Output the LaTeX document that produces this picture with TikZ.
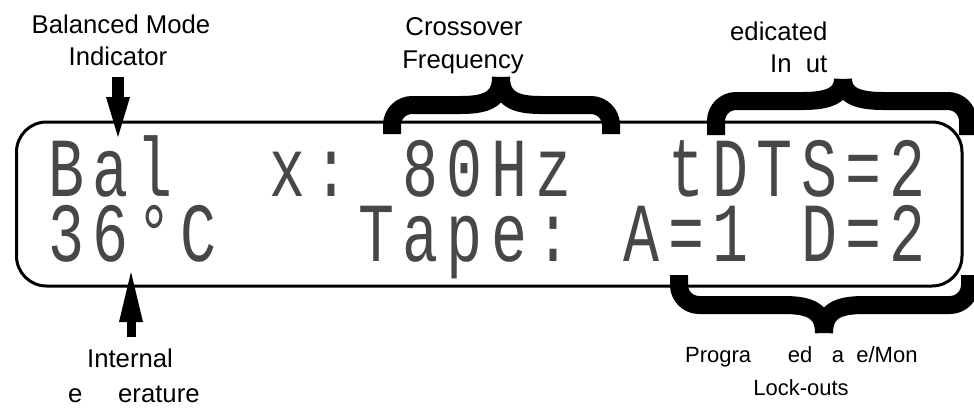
\documentclass[tikz,border=0pt]{standalone}
\usepackage{fontspec}
\usetikzlibrary{arrows.meta}
\newfontfamily\lblsans{Liberation Sans}
\newfontfamily\lcdmono{Liberation Mono}
% one LCD character cell
\newcommand\lc[1]{\makebox[44.3pt]{#1}}
% brace: #1 xL, #2 xM, #3 xR, #4 leg end y, #5 arm y, #6 tip y, #7 sign (+1 legs below arm)
\newcommand\lcdbrace[7]{%
  \draw[bracestroke] (#1,#4) -- (#1,{#5+#7*20}) .. controls (#1,{#5+#7*9}) and ({#1+9},#5) .. ({#1+20},#5)
     -- ({#2-40},#5) .. controls ({#2-14},#5) and (#2,{#5-#7*6}) .. (#2,#6);
  \draw[bracestroke] (#3,#4) -- (#3,{#5+#7*20}) .. controls (#3,{#5+#7*9}) and ({#3-9},#5) .. ({#3-20},#5)
     -- ({#2+40},#5) .. controls ({#2+14},#5) and (#2,{#5-#7*6}) .. (#2,#6);
}
\tikzset{
  lbl/.style={font=\lblsans\fontsize{25.7}{30}\selectfont, inner sep=0pt},
  lblsm/.style={font=\lblsans\fontsize{22}{26}\selectfont, inner sep=0pt},
  lcdtxt/.style={font=\lcdmono\fontsize{60}{47.14}\selectfont, text=black!72, inner sep=0pt, anchor=base west},
  bracestroke/.style={line width=18pt, black, line cap=butt, line join=round},
  lcdframe/.style={line width=3pt, rounded corners=30pt},
  ptr/.style={line cap=butt, -{Triangle[length=#1, width=24pt, line width=0pt]}},
}
\begin{document}
\begin{tikzpicture}[x=1pt, y=-1pt]
\useasboundingbox (0,0) rectangle (974,407);
\fill[white] (0,0) rectangle (974,407);

% display frame
\draw[lcdframe] (16.5,122) rectangle (962,286);

% display text (two rows, 20 character cells each)
\node[lcdtxt] (lcd) at (43.8,196) {\scalebox{1}[1.4]{\vtop{\lineskiplimit=-1000pt\baselineskip=47.14pt
  \hbox{\lc{B}\lc{a}\lc{l}\lc{}\lc{}\lc{x}\lc{:}\lc{}\lc{8}\lc{0}\lc{H}\lc{z}\lc{}\lc{}\lc{t}\lc{D}\lc{T}\lc{S}\lc{=}\lc{2}}
  \hbox{\lc{3}\lc{6}\lc{°}\lc{C}\lc{}\lc{}\lc{}\lc{T}\lc{a}\lc{p}\lc{e}\lc{:}\lc{}\lc{A}\lc{=}\lc{1}\lc{}\lc{D}\lc{=}\lc{2}}}}};

% braces
\lcdbrace{392}{501}{611}{134}{105}{77}{1}
\lcdbrace{716}{843}{968}{135}{101}{79}{1}
\lcdbrace{679}{824}{970}{275}{305}{333}{-1}

% labels
\node[lbl, anchor=base] (bm1) at (121,33) {Balanced Mode};
\node[lbl, anchor=base] (bm2) at (118,65) {Indicator};
\node[lbl, anchor=base] (cf1) at (464,35) {Crossover};
\node[lbl, anchor=base] (cf2) at (463,68) {Frequency};
\node[lbl, anchor=base west] (di1) at (730,40) {edicated};
\node[lbl, anchor=base west] (di2) at (770,72) {In\phantom{p}ut};
\node[lbl, anchor=base] (it1) at (130,367) {Internal};
\node[lbl, anchor=base west] (it2) at (68,402) {e\phantom{mp}erature};
\node[lblsm, anchor=base west] (pl1) at (685,362) {Progra\phantom{mm}ed \phantom{T}a\phantom{p}e/Mon};
\node[lblsm, anchor=base] (pl2) at (801,395) {Lock-outs};

% arrows
\coordinate (a1s) at (118,77);
\coordinate (a1t) at (118,137);
\draw[ptr=40pt, line width=12pt] (a1s) -- (a1t);
\coordinate (a2s) at (131,337);
\coordinate (a2t) at (131,272);
\draw[ptr=50pt, line width=9pt] (a2s) -- (a2t);
\end{tikzpicture}
\end{document}
